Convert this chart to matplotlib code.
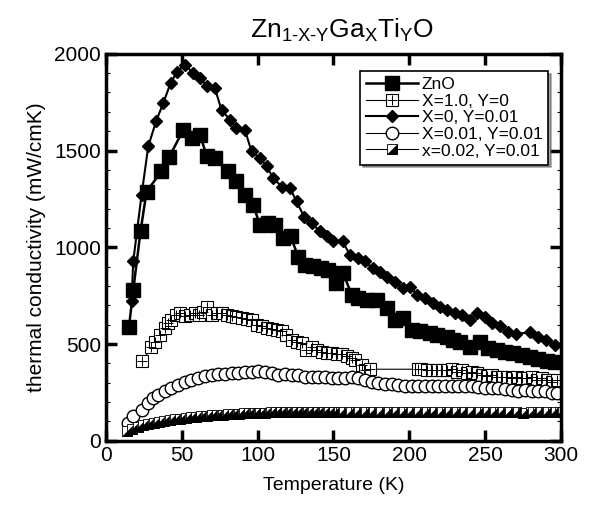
import numpy as np
import matplotlib
matplotlib.use("Agg")
import matplotlib.pyplot as plt

plt.rcParams['font.family'] = ['Liberation Sans', 'DejaVu Sans']
plt.rcParams['mathtext.fontset'] = 'custom'
plt.rcParams['mathtext.rm'] = 'Liberation Sans'
plt.rcParams['mathtext.it'] = 'Liberation Sans'

# ZnO
zno_T = [15.2, 18, 22.8, 26.8, 36.6, 41.7, 51, 57, 62, 66.4, 71.8, 80.6, 86, 91.6, 97,
         101.5, 107, 111.4, 117, 121.7, 126.8, 131, 136.7, 142, 146.6, 151.6, 156.4, 162,
         166.3, 171.8, 178.4, 185, 190.5, 196, 201.5, 207, 213.6, 218, 224.5, 229, 233.4,
         240, 246.5, 252, 257.5, 263, 268.5, 274, 279.5, 285, 290.5, 296]
zno_k = [589, 777, 1082, 1288, 1392, 1466, 1607, 1564, 1581, 1473, 1461, 1392, 1340, 1271, 1220,
         1116, 1125, 1116, 1048, 1056, 952, 910, 901, 892, 884, 815, 866, 754,
         737, 729, 729, 685, 625, 634, 574, 565, 556, 548, 539, 522, 513,
         487, 513, 479, 470, 461, 453, 444, 432, 422, 413, 405]

# X=1.0, Y=0
ga_T = [24.1, 30, 32.3, 35.6, 38.9, 41, 43.2, 46.5, 48.8, 52, 55.4, 58.7, 61.5, 64, 66.3,
        69.6, 72.9, 76.2, 79.5, 82.8, 86, 89.4, 92.7, 96, 99.3, 102.6, 105.9, 109.2, 112.5,
        115.8, 119, 122.4, 125.7, 129, 132.2, 135.6, 138.8, 142.1, 145.4, 148.7, 152, 155.3,
        158.6, 161.9, 164.1, 168.5, 170.7, 174, 205.9, 208, 211.3, 214.6, 217.9, 221.2, 224.5,
        227.8, 231.1, 234.4, 237.7, 241, 244.3, 247.6, 250.9, 254.2, 257.5, 260.8, 264.1,
        267.4, 270.7, 274, 277.3, 280.6, 283.9, 287.2, 290.5, 293.8, 297.1]
ga_k = [410, 487, 513, 548, 582, 608, 625, 651, 659, 646, 651, 659, 651, 668, 694,
        651, 659, 659, 651, 646, 642, 634, 629, 625, 600, 591, 582, 577, 574,
        565, 548, 522, 513, 505, 470, 487, 470, 461, 453, 453, 449, 449,
        436, 427, 418, 392, 367, 370, 370, 370, 364, 367, 364, 367, 364,
        370, 358, 364, 349, 358, 349, 341, 336, 341, 332, 332, 329,
        323, 332, 323, 323, 332, 315, 323, 315, 306, 315]

# X=0, Y=0.01
ti_T = [16.9, 18, 23.5, 27.9, 33, 37.8, 42.6, 47, 52, 57.5, 62, 66.8, 71.8, 76.2, 81.7, 86,
        91.6, 96, 101.5, 106, 110.3, 115.8, 121.3, 125.7, 130.5, 135.6, 141, 145.5, 149.8,
        156, 160.8, 166.3, 170.7, 175.8, 180.6, 185.4, 190.5, 195.5, 200.4, 205.2, 210.3,
        215.3, 220.2, 225, 230, 235, 240, 244.8, 249.8, 254.6, 259.7, 265.1, 270.2, 279.5,
        285, 290, 296]
ti_k = [720, 927, 1271, 1521, 1650, 1745, 1848, 1908, 1943, 1900, 1874, 1831, 1822, 1710, 1659, 1615,
        1607, 1495, 1461, 1418, 1357, 1314, 1306, 1237, 1159, 1125, 1082, 1056, 1035,
        1030, 961, 944, 927, 892, 870, 846, 823, 789, 797, 754, 737,
        711, 694, 677, 659, 651, 625, 659, 642, 608, 591, 560, 553, 560,
        539, 522, 496]

# X=0.01, Y=0.01
c1_T = [14.7, 18, 23.5, 27.9, 31.2, 34.5, 38.9, 43.2, 47.7, 52, 56.4, 60.8, 65.3, 69.6, 74,
        78.4, 82.8, 87.1, 91.6, 96, 100.4, 104.8, 109.2, 113.6, 118, 122.4, 126.8, 131.1,
        135.6, 140, 144.4, 148.7, 153.1, 157.5, 161.9, 166.3, 170.7, 175.1, 179.5, 183.9,
        188.3, 192.7, 197.1, 201.5, 205.9, 210.3, 214.6, 219, 223.4, 227.8, 232.2, 236.6,
        241, 245.4, 249.8, 254.2, 258.6, 263, 267.4, 271.8, 276.2, 280.6, 285, 289.4,
        293.8, 297.1]
c1_k = [91, 126, 160, 194, 220, 238, 255, 272, 289, 306, 315, 324, 336, 341, 344,
        346, 349, 353, 358, 358, 363, 358, 349, 341, 344, 341, 338, 332,
        329, 329, 329, 323, 323, 323, 332, 323, 315, 306, 298, 295,
        295, 289, 284, 281, 284, 281, 281, 284, 281, 284, 281, 284,
        281, 277, 272, 272, 272, 267, 263, 255, 263, 258, 255, 255,
        246, 249]

# x=0.02, Y=0.01
c2_T = [14, 17.5, 21, 24.5, 28, 31.5, 35, 38.5, 42, 45.5, 49, 52.5, 56, 59.5, 63, 66.5, 70,
        73.5, 77, 80.5, 84, 87.5, 91, 94.5, 98, 101.5, 105, 108.5, 112, 115.5, 119, 122.5,
        126, 129.5, 133, 136.5, 140, 143.5, 147, 150.5, 155, 160, 165, 170, 175, 180, 185,
        190, 195, 200, 205, 210, 215, 220, 225, 230, 235, 240, 245, 250, 255, 260, 265,
        270, 275, 280, 285, 290, 295, 299]
c2_k = [52, 62, 72, 80, 88, 93, 98, 103, 108, 112, 115, 118, 121, 124, 127, 129, 132,
        134, 135, 137, 139, 140, 142, 143, 144, 145, 146, 147, 147, 148, 148, 149,
        149, 150, 150, 150, 151, 150, 151, 151, 150, 149, 150, 148, 150, 149, 150,
        149, 148, 150, 149, 148, 150, 149, 147, 149, 148, 150, 149, 147, 149, 148, 147,
        149, 143, 148, 147, 149, 148, 150]

fig = plt.figure(figsize=(5.95, 5.12), dpi=100)
ax = fig.add_axes([0.178, 0.139, 0.765, 0.756])

ax.plot(zno_T, zno_k, color='black', lw=1.8, marker='s', ms=10, mfc='black', mec='black',
        label='ZnO')
h_ga1, = ax.plot(ga_T, ga_k, color='black', lw=0.8, marker='s', ms=8, mfc='white',
                 mec='black', mew=0.8)
h_ga2, = ax.plot(ga_T, ga_k, ls='none', marker='+', ms=7, mec='black', mew=0.7)
ax.plot(ti_T, ti_k, color='black', lw=1.5, marker='D', ms=6, mfc='black', mec='black',
        label='X=0, Y=0.01')
ax.plot(c1_T, c1_k, color='black', lw=0.8, marker='o', ms=9, mfc='white', mec='black',
        mew=1.0, label='X=0.01, Y=0.01')
tri = [(-1, -1), (1, -1), (1, 1), (-1, -1)]
h_c2a, = ax.plot(c2_T, c2_k, color='black', lw=0.8, marker='s', ms=7.5, mfc='white',
                 mec='black', mew=0.6)
h_c2b, = ax.plot(c2_T, c2_k, ls='none', marker=tri, ms=7.5, mfc='black', mec='black', mew=0.3)

handles, labels = ax.get_legend_handles_labels()
handles = [handles[0], (h_ga1, h_ga2), handles[1], handles[2], (h_c2a, h_c2b)]
labels = ['ZnO', 'X=1.0, Y=0', 'X=0, Y=0.01', 'X=0.01, Y=0.01', 'x=0.02, Y=0.01']
leg = ax.legend(handles, labels, loc='upper right', bbox_to_anchor=(0.972, 0.955),
                fontsize=12.5, handlelength=3.0, handletextpad=0.2, labelspacing=0.08,
                borderpad=0.35, borderaxespad=0, fancybox=False, shadow=True, framealpha=1,
                edgecolor='black')
leg.get_frame().set_linewidth(1.2)

ax.set_xlim(0, 300)
ax.set_ylim(0, 2000)
ax.set_xticks(np.arange(0, 301, 50))
ax.set_yticks(np.arange(0, 2001, 500))
ax.set_yticks(np.arange(0, 2001, 100), minor=True)
ax.tick_params(which='both', direction='in', top=True, right=True, labelsize=15)
ax.tick_params(which='major', length=8, width=2.5)
ax.tick_params(which='minor', length=3, width=0.8)
for s in ax.spines.values():
    s.set_linewidth(2.5)

ax.set_xlabel('Temperature (K)', fontsize=14, labelpad=9)
ax.set_ylabel('thermal conductivity (mW/cmK)', fontsize=15, labelpad=6)
fig.text(0.575, 0.94, r'$\mathregular{Zn_{1\text{-}X\text{-}Y}Ga_{X}Ti_{Y}O}$',
         ha='center', va='center', fontsize=19)

fig.savefig('out.png', dpi=100)
